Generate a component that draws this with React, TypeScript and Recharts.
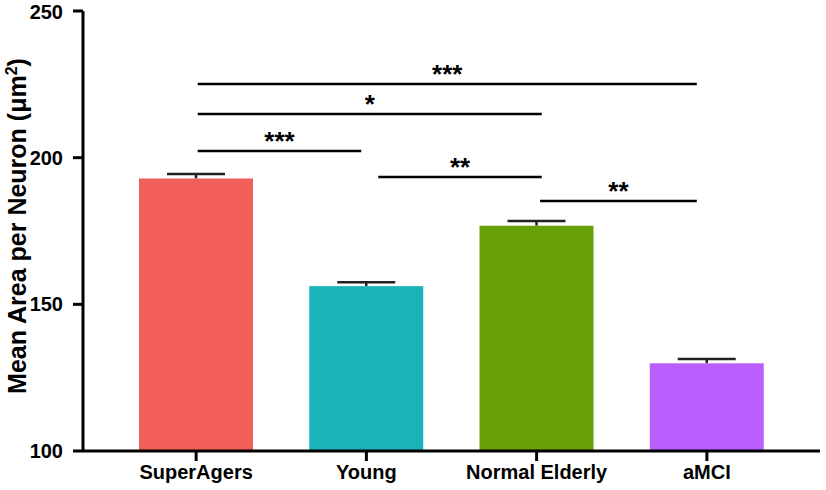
import { ComposedChart, Bar, Cell, XAxis, YAxis, ReferenceLine } from "recharts"

const groups = ["SuperAgers", "Young", "Normal Elderly", "aMCI"]
const means = [192.9, 156.2, 176.8, 129.9]
const sems = [1.5, 1.3, 1.6, 1.5]
const colors = ["#F25F5A", "#18B4B7", "#69A007", "#BA5EFF"]

const yTicks = [100, 150, 200, 250]

// significance brackets, x in group-index units (0 = first group centre)
const sigFrom = [0.01, 0.01, 0.01, 1.07, 2.02]
const sigTo = [2.94, 2.03, 0.97, 2.03, 2.94]
const sigY = [225.1, 214.9, 202.3, 193.4, 185.2]
const sigText = ["***", "*", "***", "**", "**"]

const data = groups.map((g, i) => ({ name: g, idx: i, mean: means[i], sem: sems[i] }))

const font = "'Liberation Sans', Arial, sans-serif"

function BarWithErr(props: any) {
  const { x, y, width, height, fill, payload } = props
  const ppu = height / (payload.mean - 100)
  const top = y - payload.sem * ppu
  const cx = x + width / 2
  return (
    <g>
      <line x1={cx} x2={cx} y1={y} y2={top} stroke="#222" strokeWidth={2.5} />
      <line x1={cx - 29} x2={cx + 29} y1={top} y2={top} stroke="#222" strokeWidth={2.5} />
      <rect x={x} y={y} width={width} height={height} fill={fill} />
    </g>
  )
}

function YLabel() {
  return (
    <text
      x={26}
      y={226}
      transform="rotate(-90 26 226)"
      textAnchor="middle"
      fontSize={25}
      fontWeight="bold"
      fontFamily={font}
      fill="#000"
    >
      Mean Area per Neuron (μm
      <tspan dy={-9} fontSize={16}>2</tspan>
      <tspan dy={9}>)</tspan>
    </text>
  )
}

export default function App() {
  return (
    <div style={{ position: "absolute", left: 0, top: 0, background: "#fff", fontFamily: font }}>
      <ComposedChart width={826} height={490} data={data} margin={{ top: 11, right: 6, left: 0, bottom: 0 }}>
        <XAxis
          dataKey="name"
          padding={{ left: 28, right: 28 }}
          height={39}
          tickSize={10}
          tickMargin={4}
          axisLine={{ stroke: "#000", strokeWidth: 3 }}
          tickLine={{ stroke: "#000", strokeWidth: 3 }}
          tick={{ fontSize: 20, fontWeight: "bold", fill: "#000", fontFamily: font }}
        />
        <XAxis
          xAxisId="n"
          type="number"
          dataKey="idx"
          domain={[0, 3]}
          padding={{ left: 113, right: 113 }}
          hide
          allowDataOverflow
        />
        <YAxis
          domain={[100, 250]}
          ticks={yTicks}
          width={83}
          tickSize={10}
          tickMargin={10}
          axisLine={{ stroke: "#000", strokeWidth: 3 }}
          tickLine={{ stroke: "#000", strokeWidth: 3 }}
          tick={{ fontSize: 20, fontWeight: "bold", fill: "#000", fontFamily: font }}
          label={<YLabel />}
          allowDataOverflow
        />
        <Bar dataKey="mean" barSize={114} shape={<BarWithErr />} isAnimationActive={false}>
          {data.map((d, i) => (
            <Cell key={d.name} fill={colors[i]} />
          ))}
        </Bar>
        {sigText.map((t, i) => (
          <ReferenceLine
            key={i}
            xAxisId="n"
            segment={[
              { x: sigFrom[i], y: sigY[i] },
              { x: sigTo[i], y: sigY[i] },
            ]}
            stroke="#000"
            strokeWidth={2.5}
            label={{ value: t, position: "top", offset: 1, fontSize: 26, fontWeight: "bold", fill: "#000", fontFamily: font }}
          />
        ))}
      </ComposedChart>
    </div>
  )
}
